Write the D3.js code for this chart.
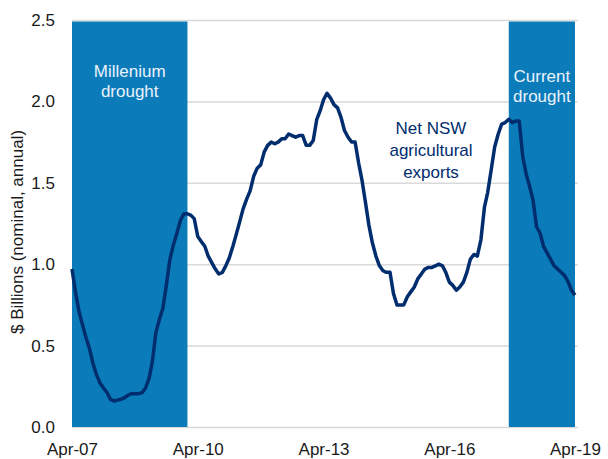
<!DOCTYPE html>
<html>
<head>
<meta charset="utf-8">
<script src="https://cdn.jsdelivr.net/npm/d3@7"></script>
<style>
  body { margin: 0; background: #fff; }
  text { font-family: "Liberation Sans", Arial, sans-serif; }
</style>
</head>
<body>
<div id="chart"></div>
<script>
var svgWidth = 608;
var svgHeight = 459;

// monthly values, Apr-07 .. Apr-19 ($ billions, nominal, annual)
var startMonth = new Date(2007, 3, 1);
var exportsValues = [
  0.97, 0.83, 0.71, 0.63, 0.55, 0.48, 0.39, 0.32, 0.27, 0.24, 0.21, 0.17,
  0.16, 0.165, 0.17, 0.18, 0.195, 0.205, 0.205, 0.205, 0.21, 0.24, 0.30, 0.40,
  0.58, 0.66, 0.73, 0.87, 1.03, 1.12, 1.19, 1.27, 1.31, 1.31, 1.30, 1.28,
  1.17, 1.14, 1.11, 1.05, 1.01, 0.97, 0.94, 0.95, 0.99, 1.04, 1.11, 1.18,
  1.26, 1.34, 1.40, 1.45, 1.54, 1.59, 1.61, 1.69, 1.73, 1.75, 1.74, 1.75,
  1.77, 1.77, 1.80, 1.79, 1.78, 1.79, 1.79, 1.73, 1.73, 1.76, 1.89, 1.94,
  2.01, 2.05, 2.02, 1.98, 1.96, 1.90, 1.82, 1.78, 1.75, 1.75, 1.62, 1.52,
  1.38, 1.24, 1.13, 1.05, 0.99, 0.96, 0.95, 0.95, 0.82, 0.75, 0.75, 0.75,
  0.80, 0.83, 0.86, 0.91, 0.94, 0.97, 0.98, 0.98, 0.99, 1.00, 0.99, 0.95,
  0.89, 0.87, 0.84, 0.86, 0.89, 0.95, 1.03, 1.06, 1.05, 1.15, 1.35, 1.44,
  1.58, 1.72, 1.80, 1.86, 1.87, 1.89, 1.87, 1.88, 1.88, 1.66, 1.55, 1.48,
  1.39, 1.23, 1.19, 1.11, 1.07, 1.03, 0.99, 0.97, 0.95, 0.93, 0.89, 0.84,
  0.81
];

var droughtStarts = [new Date(2007, 3, 1), new Date(2017, 8, 1)];
var droughtEnds = [new Date(2010, 0, 1), new Date(2019, 3, 1)];
var droughtLabels = [["Millenium", "drought"], ["Current", "drought"]];

var xTickDates = [new Date(2007, 3, 1), new Date(2010, 3, 1), new Date(2013, 3, 1),
                  new Date(2016, 3, 1), new Date(2019, 3, 1)];
var yTicks = [0, 0.5, 1.0, 1.5, 2.0, 2.5];

var seriesLabel = ["Net NSW", "agricultural", "exports"];
var yAxisTitle = "$ Billions (nominal, annual)";

var data = exportsValues.map((v, i) => ({ date: d3.timeMonth.offset(startMonth, i), value: v }));

var svg = d3.select("#chart")
  .append("svg")
  .attr("width", svgWidth)
  .attr("height", svgHeight);

var x = d3.scaleTime()
  .domain([xTickDates[0], xTickDates[xTickDates.length - 1]])
  .range([72, 575]);

var y = d3.scaleLinear()
  .domain([0, 2.5])
  .range([427, 20]);

// gridlines
svg.append("g")
  .attr("transform", "translate(72,0)")
  .call(d3.axisRight(y).tickValues(yTicks).tickSize(506).tickFormat(""))
  .call(g => g.select(".domain").remove())
  .call(g => g.selectAll("line").attr("stroke", "#d9d9d9").attr("stroke-width", 1.5));

// drought bands
var bands = svg.append("g");
droughtStarts.forEach((s, i) => {
  bands.append("rect")
    .attr("x", x(s))
    .attr("y", y(2.5) + 1.5)
    .attr("width", x(droughtEnds[i]) - x(s))
    .attr("height", y(0) - y(2.5) - 1.5)
    .attr("fill", "#0b7bba");
  var cx = (x(s) + x(droughtEnds[i])) / 2;
  bands.append("text")
    .attr("x", cx)
    .attr("y", i === 0 ? 77 : 82)
    .attr("text-anchor", "middle")
    .attr("fill", "#eaf2fa")
    .attr("font-size", 17)
    .selectAll("tspan")
    .data(droughtLabels[i])
    .enter()
    .append("tspan")
    .attr("x", cx)
    .attr("dy", (d, j) => j === 0 ? 0 : 20)
    .text(d => d);
});

// axes
svg.append("g")
  .attr("transform", "translate(58,0)")
  .call(d3.axisLeft(y).tickValues(yTicks).tickSize(0).tickFormat(d3.format(".1f")))
  .call(g => g.select(".domain").remove())
  .call(g => g.selectAll("text").attr("font-size", 17).attr("fill", "#1a1a1a")
    .attr("font-family", "Liberation Sans, Arial, sans-serif"));

svg.append("g")
  .attr("transform", "translate(0,440)")
  .call(d3.axisBottom(x).tickValues(xTickDates).tickSize(0).tickFormat(d3.timeFormat("%b-%y")))
  .call(g => g.select(".domain").remove())
  .call(g => g.selectAll("text").attr("font-size", 17).attr("fill", "#1a1a1a")
    .attr("font-family", "Liberation Sans, Arial, sans-serif"));

svg.append("text")
  .attr("transform", "translate(23," + 232 + ") rotate(-90)")
  .attr("text-anchor", "middle")
  .attr("font-size", 17)
  .attr("fill", "#1a1a1a")
  .text(yAxisTitle);

// line
var line = d3.line()
  .x(d => x(d.date))
  .y(d => y(d.value));

svg.append("path")
  .datum(data)
  .attr("d", line)
  .attr("fill", "none")
  .attr("stroke", "#002d6e")
  .attr("stroke-width", 3.5)
  .attr("stroke-linejoin", "round");

// series label
svg.append("text")
  .attr("x", 431)
  .attr("y", 134)
  .attr("text-anchor", "middle")
  .attr("fill", "#002d6e")
  .attr("font-size", 17)
  .selectAll("tspan")
  .data(seriesLabel)
  .enter()
  .append("tspan")
  .attr("x", 431)
  .attr("dy", (d, j) => j === 0 ? 0 : 22)
  .text(d => d);
</script>
</body>
</html>
